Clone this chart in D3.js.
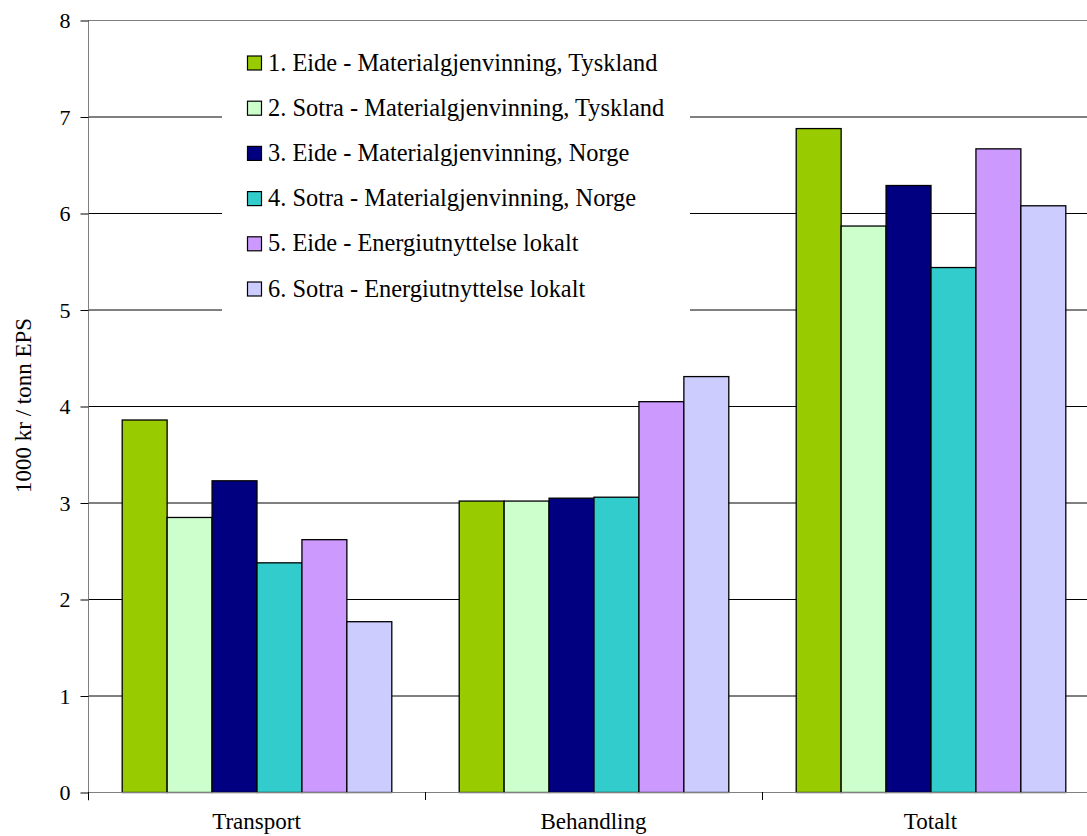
<!DOCTYPE html>
<html>
<head>
<meta charset="utf-8">
<script src="https://cdn.jsdelivr.net/npm/d3@7"></script>
<style>
  body { margin: 0; background: #fff; }
  text { font-family: "Liberation Serif", "Times New Roman", serif; fill: #000; }
</style>
</head>
<body>
<svg id="canvas" width="1087" height="836"></svg>
<script>
const kategorier = ["Transport", "Behandling", "Totalt"];
const serier = [
    "1. Eide - Materialgjenvinning, Tyskland",
    "2. Sotra - Materialgjenvinning, Tyskland",
    "3. Eide - Materialgjenvinning, Norge",
    "4. Sotra - Materialgjenvinning, Norge",
    "5. Eide - Energiutnyttelse lokalt",
    "6. Sotra - Energiutnyttelse lokalt"
];
const farger = ["#99cc00", "#ccffcc", "#000080", "#33cccc", "#cc99ff", "#ccccff"];
// verdier per serie: Transport, Behandling, Totalt
const verdier = [
    [3.86, 3.02, 6.88],
    [2.85, 3.02, 5.87],
    [3.23, 3.05, 6.29],
    [2.38, 3.06, 5.44],
    [2.62, 4.05, 6.67],
    [1.77, 4.31, 6.08]
];
const yTicks = [0, 1, 2, 3, 4, 5, 6, 7, 8];

const svg = d3.select("#canvas");

const venstre = 88, hoyre = 1099, topp = 20, bunn = 792;

const x = d3.scaleBand()
    .domain(kategorier)
    .range([venstre, hoyre])
    .paddingInner(0.2)
    .paddingOuter(0.1);

const xSerie = d3.scaleBand()
    .domain(d3.range(serier.length))
    .range([0, x.bandwidth()]);

const y = d3.scaleLinear().domain([0, 8]).range([bunn, topp]);

// Rutenett
svg.append("g")
    .selectAll("line")
    .data(yTicks.filter(t => t > 0 && t < 8))
    .join("line")
    .attr("x1", venstre)
    .attr("x2", hoyre)
    .attr("y1", d => y(d) + 0.5)
    .attr("y2", d => y(d) + 0.5)
    .attr("stroke", "#000");

svg.append("line")
    .attr("x1", venstre).attr("x2", hoyre)
    .attr("y1", y(8) + 0.5).attr("y2", y(8) + 0.5)
    .attr("stroke", "#808080");

// Stolper
kategorier.forEach((kat, k) => {
    serier.forEach((s, i) => {
        svg.append("rect")
            .attr("x", x(kat) + xSerie(i) + 0.5)
            .attr("y", y(verdier[i][k]) + 0.5)
            .attr("width", xSerie.bandwidth())
            .attr("height", bunn - y(verdier[i][k]))
            .attr("fill", farger[i])
            .attr("stroke", "#000")
            .attr("stroke-width", 1.3);
    });
});

// Y-akse
const yAkse = svg.append("g")
    .attr("transform", `translate(${venstre + 0.5},0.5)`)
    .call(d3.axisLeft(y).tickValues(yTicks).tickSize(8).tickPadding(10));
yAkse.select(".domain").attr("stroke", "#808080").attr("d", `M0,${topp}V${bunn + 8}`);
yAkse.selectAll(".tick line").attr("stroke", "#000");
yAkse.selectAll("text")
    .style("font-family", "Liberation Serif")
    .style("font-size", "22px")
    .attr("fill", "#000");

// X-akse
svg.append("line")
    .attr("x1", venstre).attr("x2", hoyre)
    .attr("y1", bunn + 0.5).attr("y2", bunn + 0.5)
    .attr("stroke", "#808080");

svg.append("g")
    .selectAll("line")
    .data(kategorier)
    .join("line")
    .attr("x1", d => x(d) - x.step() * 0.1 + 0.5)
    .attr("x2", d => x(d) - x.step() * 0.1 + 0.5)
    .attr("y1", bunn)
    .attr("y2", bunn + 8)
    .attr("stroke", "#000");

svg.append("g")
    .selectAll("text")
    .data(kategorier)
    .join("text")
    .attr("x", d => x(d) + x.bandwidth() / 2)
    .attr("y", 829)
    .attr("text-anchor", "middle")
    .style("font-size", "23px")
    .text(d => d);

svg.append("text")
    .attr("transform", `translate(31,${(318 + 493) / 2}) rotate(-90)`)
    .attr("text-anchor", "middle")
    .style("font-size", "23px")
    .text("1000 kr / tonn EPS");

// Forklaring
const legend = svg.append("g");
legend.append("rect")
    .attr("x", 222).attr("y", 28)
    .attr("width", 468).attr("height", 287)
    .attr("fill", "#fff");

serier.forEach((s, i) => {
    const cy = 63 + i * 45.2;
    legend.append("rect")
        .attr("x", 247.5).attr("y", cy - 7)
        .attr("width", 14).attr("height", 14)
        .attr("fill", farger[i])
        .attr("stroke", "#000")
        .attr("stroke-width", 1.2);
    legend.append("text")
        .attr("x", 268)
        .attr("y", cy + 7.5)
        .style("font-size", "24.4px")
        .text(s);
});
</script>
</body>
</html>
